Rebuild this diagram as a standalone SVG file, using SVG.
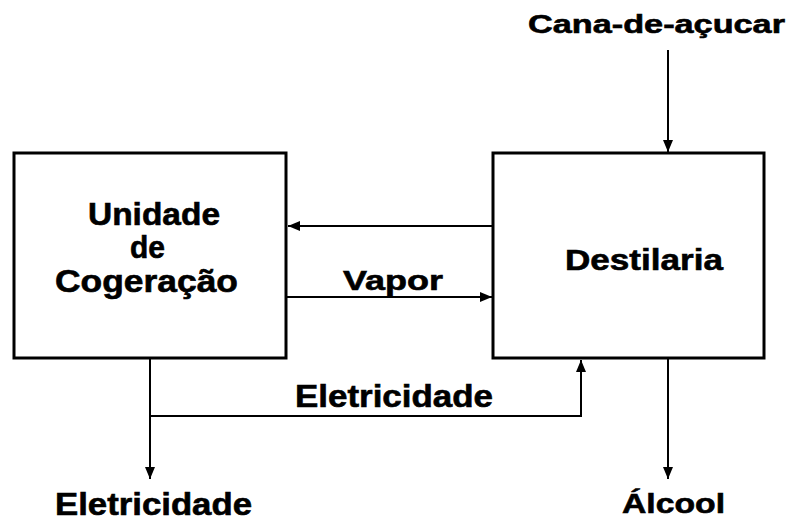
<svg xmlns="http://www.w3.org/2000/svg" width="799" height="527" viewBox="0 0 799 527">
<defs>
<marker id="ah" viewBox="0 0 12 10" refX="12" refY="5" markerWidth="12" markerHeight="10" markerUnits="userSpaceOnUse" orient="auto">
<path d="M0,0 L12,5 L0,10 Z" fill="#000"/>
</marker>
</defs>
<style>
.box{fill:#fff;stroke:#000;stroke-width:3}
.t{font-family:"Liberation Sans",Arial,sans-serif;font-weight:bold;fill:#000;stroke:#000;stroke-width:0.6}
.c{fill:none;stroke:#000;stroke-width:2}
</style>
<rect width="799" height="527" fill="#fff"/>
<g id="connectors">
<line class="c" x1="668" y1="50" x2="668" y2="152" marker-end="url(#ah)"/>
<line class="c" x1="492" y1="226" x2="288" y2="226" marker-end="url(#ah)"/>
<line class="c" x1="287" y1="297" x2="492" y2="297" marker-end="url(#ah)"/>
<polyline class="c" points="150,359 150,416 581,416 581,360" marker-end="url(#ah)"/>
<line class="c" x1="150" y1="416" x2="150" y2="479" marker-end="url(#ah)"/>
<line class="c" x1="668" y1="359" x2="668" y2="479" marker-end="url(#ah)"/>
<text class="t" x="343" y="290" font-size="28" textLength="100" lengthAdjust="spacingAndGlyphs">Vapor</text>
<text class="t" x="295" y="407" font-size="31" textLength="198" lengthAdjust="spacingAndGlyphs">Eletricidade</text>
</g>
<g id="cogeracao">
<rect class="box" x="14" y="153" width="272" height="205"/>
<text class="t" x="88" y="225" font-size="31" textLength="132" lengthAdjust="spacingAndGlyphs">Unidade</text>
<text class="t" x="130" y="258" font-size="31" textLength="35" lengthAdjust="spacingAndGlyphs">de</text>
<text class="t" x="55" y="292" font-size="31" textLength="183" lengthAdjust="spacingAndGlyphs">Cogeração</text>
</g>
<g id="destilaria">
<rect class="box" x="493" y="153" width="271" height="205"/>
<text class="t" x="565" y="270" font-size="29" textLength="158" lengthAdjust="spacingAndGlyphs">Destilaria</text>
</g>
<g id="cana">
<text class="t" x="528" y="33" font-size="26" textLength="257" lengthAdjust="spacingAndGlyphs">Cana-de-açucar</text>
</g>
<g id="eletricidade-out">
<text class="t" x="55" y="515" font-size="31" textLength="197" lengthAdjust="spacingAndGlyphs">Eletricidade</text>
</g>
<g id="alcool">
<text class="t" x="622" y="513" font-size="28" textLength="103" lengthAdjust="spacingAndGlyphs">Álcool</text>
</g>
</svg>
